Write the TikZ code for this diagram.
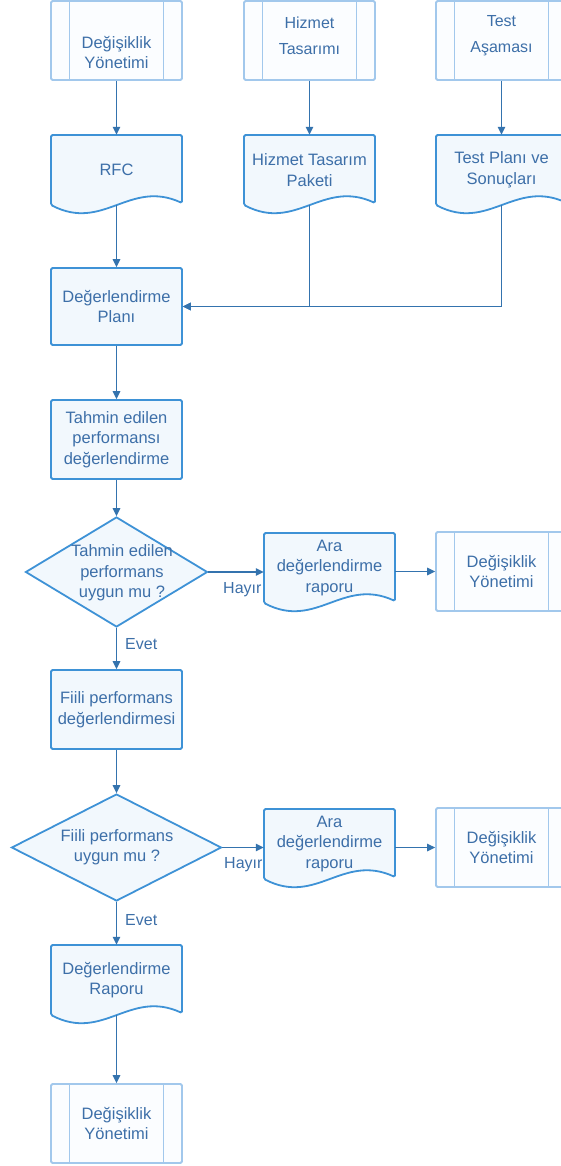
\documentclass[tikz,border=0pt]{standalone}
\usepackage{fontspec}
\setmainfont{Liberation Sans}
\usetikzlibrary{shapes.geometric,arrows.meta}

\definecolor{procblue}{HTML}{3E92D6}
\definecolor{procfill}{HTML}{F2F8FD}
\definecolor{preblue}{HTML}{A2C8EC}
\definecolor{prefill}{HTML}{FBFDFF}
\definecolor{txtblue}{HTML}{3D6FA8}
\definecolor{connblue}{HTML}{3473AE}

% document symbol: flat top, wavy bottom; #1 name, #2 left, #3 top, #4 text
\newcommand\docnode[4]{%
  \begin{scope}[shift={(#2,#3)}]
    \filldraw[docline] (0,0) -- (131,0) -- (131,68)
      .. controls (78.6,44) and (52.4,97) .. (0,70) -- cycle;
    \node[txt, minimum width=131pt, minimum height=70pt] (#1) at (65.5,35) {#4};
  \end{scope}}

\begin{document}
\begin{tikzpicture}[x=1pt,y=-1pt,
  txt/.style={text=txtblue, font=\fontsize{16.5}{20.5}\selectfont, align=center, inner sep=0pt},
  toptxt/.style={text=txtblue, font=\fontsize{16}{26}\selectfont, align=center, inner sep=0pt},
  proc/.style={txt, draw=procblue, fill=procfill, line width=1.8pt, rounded corners=1.5pt,
    minimum width=131pt},
  predef/.style={draw=preblue, fill=prefill, line width=1.8pt, rounded corners=1.5pt,
    minimum width=131pt, minimum height=79pt, inner sep=0pt,
    path picture={\draw[preblue, line width=1.8pt]
      ([xshift=18.5pt]path picture bounding box.north west) -- ([xshift=18.5pt]path picture bounding box.south west)
      ([xshift=-18.5pt]path picture bounding box.north east) -- ([xshift=-18.5pt]path picture bounding box.south east);}},
  docline/.style={draw=procblue, fill=procfill, line width=1.8pt, rounded corners=1.5pt},
  dia/.style={diamond, draw=procblue, fill=procfill, line width=1.8pt, inner sep=0pt},
  conn/.style={draw=connblue, line width=1.4pt},
  arr/.style={conn, -{Triangle[length=8pt,width=7.5pt]}},
  lbl/.style={text=txtblue, font=\fontsize{16}{20}\selectfont, inner sep=0pt}
]
\useasboundingbox (0,0) rectangle (561,1166);

% labels on the "no" branches (partly covered by the report symbols)
\node[lbl, anchor=west] (hayir1) at (223,590) {Hayır};
\node[lbl, anchor=west] (hayir2) at (224,865) {Hayır};

% top row
\node[predef, label={[txt, yshift=-12pt]center:{Değişiklik\\Yönetimi}}] (dy1) at (116.5,40.5) {};
\node[predef, label={[toptxt, yshift=5pt]center:{Hizmet\\Tasarımı}}] (hz) at (309.5,40.5) {};
\node[predef, label={[toptxt, yshift=5pt]center:{Test\\Aşaması}}] (ts) at (501.5,40.5) {};

% documents of the second row
\docnode{rfc}{51}{135}{RFC}
\docnode{hzp}{244}{135}{Hizmet Tasarım\\Paketi}
\docnode{tps}{436}{135}{Test Planı ve\\Sonuçları}

% main column
\node[proc, minimum height=77pt] (plan) at (116.5,306.5) {Değerlendirme\\Planı};
\node[proc, minimum height=79pt] (tahmin) at (116.5,439.5) {Tahmin edilen\\performansı\\değerlendirme};
\node[dia, minimum width=182pt, minimum height=110pt] (q1) at (116.5,572) {};
\node[txt] (q1t) at (122,573) {Tahmin edilen\\performans\\uygun mu ?};
\node[proc, minimum height=79pt] (fiili) at (116.5,709.5) {Fiili performans\\değerlendirmesi};
\node[dia, minimum width=210pt, minimum height=107pt] (q2) at (116.5,847.5) {};
\node[txt] (q2t) at (117,847) {Fiili performans\\uygun mu ?};
\docnode{rapor}{51}{945}{Değerlendirme\\Raporu}
\node[predef, label={[txt]center:{Değişiklik\\Yönetimi}}] (dy4) at (116.5,1123.5) {};

% intermediate reports and their follow-up
\docnode{ara1}{264}{533}{Ara\\değerlendirme\\raporu}
\node[predef, label={[txt]center:{Değişiklik\\Yönetimi}}] (dy2) at (501.5,571.5) {};
\docnode{ara2}{264}{809}{Ara\\değerlendirme\\raporu}
\node[predef, label={[txt]center:{Değişiklik\\Yönetimi}}] (dy3) at (501.5,847.5) {};

% connectors
\draw[arr] (dy1) -- (rfc);
\draw[arr] (hz) -- (hzp);
\draw[arr] (ts) -- (tps);
\draw[arr] (rfc) -- (plan);
\draw[arr] (hzp.south) |- (plan.east);
\draw[arr] (tps.south) |- (plan.east);
\draw[arr] (plan) -- (tahmin);
\draw[arr] (tahmin) -- (q1);
\draw[arr] (q1.east) -- (q1.east -| ara1.west);
\draw[arr] (ara1.east |- dy2.west) -- (dy2.west);
\draw[arr] (q1) -- node[lbl, pos=0.4, anchor=west, xshift=8pt] (evet1) {Evet} (fiili);
\draw[arr] (fiili) -- (q2);
\draw[arr] (q2.east) -- (q2.east -| ara2.west);
\draw[arr] (ara2.east |- dy3.west) -- (dy3.west);
\draw[arr] (q2) -- node[lbl, pos=0.43, anchor=west, xshift=8pt] (evet2) {Evet} (rapor);
\draw[arr] (rapor) -- (dy4);
\end{tikzpicture}
\end{document}
